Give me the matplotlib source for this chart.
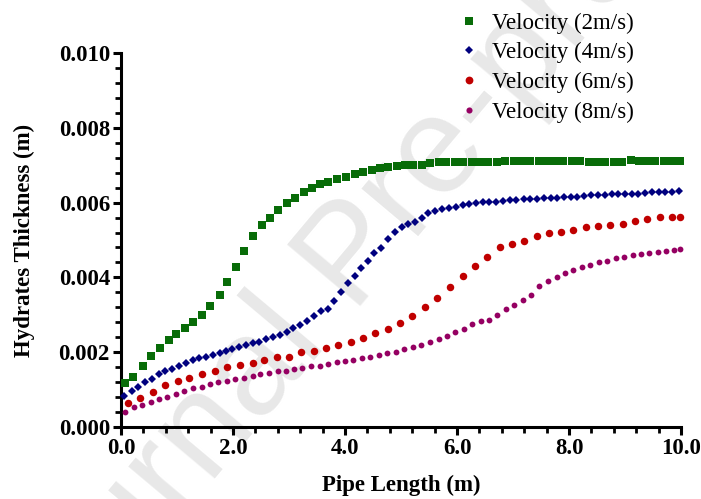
import matplotlib
matplotlib.use('Agg')
import matplotlib.pyplot as plt
from matplotlib.ticker import MultipleLocator, FormatStrFormatter
from matplotlib.lines import Line2D
import numpy as np

#Pipe length (m) and hydrate thickness (mm, converted to m below)
length_2 = [0.07, 0.22, 0.40, 0.54, 0.70, 0.85, 0.99, 1.14, 1.29, 1.44, 1.59, 1.77, 1.89, 2.05, 2.20, 2.36, 2.51,
            2.66, 2.81, 2.96, 3.11, 3.26, 3.41, 3.55, 3.70, 3.86, 4.02, 4.18, 4.33, 4.48, 4.63, 4.77, 4.92,
            5.07, 5.22, 5.37, 5.52, 5.67, 5.81, 5.96, 6.11, 6.26, 6.41, 6.56, 6.71, 6.86, 7.01, 7.16, 7.31,
            7.46, 7.60, 7.75, 7.90, 8.05, 8.20, 8.35, 8.50, 8.65, 8.80, 8.95, 9.10, 9.25, 9.39, 9.54, 9.69,
            9.84, 9.99]
thick_2 = [1.17, 1.35, 1.63, 1.90, 2.10, 2.33, 2.49, 2.64, 2.82, 2.99, 3.24, 3.53, 3.87, 4.28, 4.71, 5.11, 5.40,
           5.60, 5.80, 6.00, 6.13, 6.27, 6.38, 6.49, 6.56, 6.63, 6.69, 6.76, 6.83, 6.87, 6.92, 6.96, 6.98,
           7.01, 7.01, 7.01, 7.07, 7.08, 7.08, 7.08, 7.08, 7.08, 7.08, 7.08, 7.09, 7.12, 7.12, 7.12, 7.12,
           7.12, 7.12, 7.12, 7.12, 7.12, 7.12, 7.09, 7.09, 7.09, 7.09, 7.09, 7.14, 7.12, 7.12, 7.12, 7.12,
           7.12, 7.12]

length_4 = [0.05, 0.19, 0.31, 0.43, 0.55, 0.67, 0.79, 0.91, 1.04, 1.16, 1.28, 1.40, 1.52, 1.64, 1.76, 1.88, 1.99,
            2.11, 2.23, 2.35, 2.47, 2.59, 2.71, 2.84, 2.96, 3.08, 3.20, 3.32, 3.45, 3.57, 3.69, 3.81, 3.92,
            4.05, 4.17, 4.29, 4.41, 4.52, 4.64, 4.77, 4.89, 5.01, 5.13, 5.25, 5.37, 5.49, 5.61, 5.74, 5.86,
            5.98, 6.10, 6.22, 6.34, 6.46, 6.58, 6.70, 6.82, 6.94, 7.06, 7.19, 7.31, 7.43, 7.55, 7.67, 7.79,
            7.91, 8.03, 8.15, 8.27, 8.39, 8.51, 8.64, 8.76, 8.88, 9.00, 9.12, 9.24, 9.36, 9.48, 9.60, 9.72,
            9.84, 9.97]
thick_4 = [0.84, 0.97, 1.08, 1.19, 1.29, 1.41, 1.51, 1.56, 1.64, 1.72, 1.79, 1.84, 1.88, 1.93, 1.99, 2.04, 2.09,
           2.15, 2.19, 2.24, 2.28, 2.34, 2.40, 2.46, 2.54, 2.64, 2.73, 2.84, 2.97, 3.11, 3.16, 3.38, 3.62,
           3.84, 4.04, 4.24, 4.45, 4.66, 4.78, 5.03, 5.22, 5.36, 5.43, 5.49, 5.60, 5.73, 5.78, 5.83, 5.86,
           5.89, 5.94, 5.96, 6.00, 6.01, 6.02, 6.02, 6.04, 6.07, 6.07, 6.09, 6.10, 6.10, 6.11, 6.12, 6.13,
           6.14, 6.15, 6.16, 6.18, 6.19, 6.20, 6.21, 6.22, 6.22, 6.23, 6.23, 6.24, 6.26, 6.27, 6.27, 6.28,
           6.29, 6.31]

length_6 = [0.13, 0.34, 0.57, 0.79, 1.01, 1.22, 1.45, 1.67, 1.90, 2.13, 2.35, 2.56, 2.78, 3.00, 3.22, 3.44, 3.66,
            3.88, 4.10, 4.32, 4.54, 4.76, 4.98, 5.20, 5.43, 5.65, 5.88, 6.10, 6.32, 6.53, 6.76, 6.98, 7.20,
            7.42, 7.64, 7.86, 8.08, 8.30, 8.52, 8.74, 8.96, 9.18, 9.40, 9.63, 9.84, 9.99]
thick_6 = [0.63, 0.78, 0.93, 1.11, 1.24, 1.30, 1.41, 1.50, 1.60, 1.66, 1.72, 1.79, 1.86, 1.88, 2.00, 2.04, 2.10,
           2.20, 2.26, 2.39, 2.51, 2.61, 2.79, 2.98, 3.20, 3.44, 3.75, 4.05, 4.30, 4.54, 4.80, 4.89, 4.98,
           5.11, 5.18, 5.21, 5.27, 5.36, 5.37, 5.39, 5.43, 5.52, 5.55, 5.61, 5.61, 5.61]

length_8 = [0.07, 0.23, 0.38, 0.54, 0.68, 0.83, 0.98, 1.13, 1.29, 1.44, 1.59, 1.74, 1.89, 2.04, 2.20, 2.35, 2.49,
            2.64, 2.80, 2.95, 3.09, 3.24, 3.40, 3.55, 3.70, 3.85, 4.00, 4.15, 4.30, 4.45, 4.60, 4.75, 4.91,
            5.06, 5.21, 5.36, 5.52, 5.67, 5.82, 5.97, 6.12, 6.27, 6.43, 6.57, 6.72, 6.88, 7.02, 7.17, 7.32,
            7.47, 7.63, 7.78, 7.93, 8.08, 8.23, 8.38, 8.54, 8.68, 8.84, 8.99, 9.14, 9.29, 9.43, 9.58, 9.73,
            9.88, 9.98]
thick_8 = [0.39, 0.53, 0.59, 0.67, 0.74, 0.81, 0.88, 0.96, 1.03, 1.08, 1.14, 1.19, 1.23, 1.27, 1.32, 1.36, 1.41,
           1.45, 1.49, 1.51, 1.56, 1.59, 1.62, 1.63, 1.69, 1.74, 1.76, 1.79, 1.85, 1.88, 1.93, 1.97, 2.01,
           2.08, 2.15, 2.20, 2.27, 2.35, 2.43, 2.53, 2.62, 2.75, 2.83, 2.86, 2.99, 3.15, 3.27, 3.39, 3.53,
           3.77, 3.91, 4.02, 4.11, 4.20, 4.27, 4.33, 4.40, 4.45, 4.51, 4.55, 4.60, 4.63, 4.66, 4.69, 4.71,
           4.74, 4.76]

labels = ['Velocity (2m/s)', 'Velocity (4m/s)', 'Velocity (6m/s)', 'Velocity (8m/s)']
colors = ['#086C08', '#00007F', '#C00000', '#950062']
markers = ['s', 'D', 'o', 'o']
marker_sizes = [5.6, 3.6, 5.4, 4.2]
legend_sizes = [5.6, 3.6, 5.6, 4.4]

plt.rcParams['font.family'] = ['Liberation Serif', 'DejaVu Serif']

fig = plt.figure(figsize=(7.01, 4.99), dpi=100)
ax = fig.add_axes([0.1726, 0.1443, 0.7989, 0.7495])

#Watermark behind everything
fig.text(0.504, 0.482, 'Journal Pre-proof', fontsize=100, family='Liberation Sans', color='#e8e8e8',
         rotation=50, rotation_mode='anchor', ha='center', va='center', zorder=-1)
ax.patch.set_alpha(0)

series = [(length_2, thick_2), (length_4, thick_4), (length_6, thick_6), (length_8, thick_8)]
for (x, y), c, m, ms in zip(series, colors, markers, marker_sizes):
    ax.plot(x, np.array(y) * 1e-3, linestyle='none', marker=m, color=c, markersize=ms,
            markeredgewidth=0, clip_on=False, zorder=3)

#Axes limits and ticks
ax.set_xlim(0, 10)
ax.set_ylim(0, 0.010)
ax.xaxis.set_major_locator(MultipleLocator(2))
ax.xaxis.set_minor_locator(MultipleLocator(0.4))
ax.yaxis.set_major_locator(MultipleLocator(0.002))
ax.yaxis.set_minor_locator(MultipleLocator(0.0004))
ax.xaxis.set_major_formatter(FormatStrFormatter('%.1f'))
ax.yaxis.set_major_formatter(FormatStrFormatter('%.3f'))

for side in ['top', 'right']:
    ax.spines[side].set_visible(False)
for side in ['left', 'bottom']:
    ax.spines[side].set_linewidth(2.2)

ax.tick_params(which='major', length=6, width=2.2, labelsize=16.5, pad=2)
ax.tick_params(which='minor', length=4, width=2.0)
for lab in ax.get_xticklabels() + ax.get_yticklabels():
    lab.set_fontweight('bold')

ax.set_xlabel('Pipe Length (m)', fontsize=16.5, fontweight='bold', labelpad=11)
ax.set_ylabel('Hydrates Thickness (m)', fontsize=16.5, fontweight='bold', labelpad=17)

#Legend sits partly above the axes
handles = [Line2D([], [], linestyle='none', marker=m, color=c, markersize=ms, markeredgewidth=0)
           for m, c, ms in zip(markers, colors, legend_sizes)]
fig.legend(handles, labels, loc='upper left', bbox_to_anchor=(0.623, 1.016), frameon=False,
           fontsize=16.5, handlelength=1.0, handletextpad=0.5, labelspacing=0.37)

fig.savefig('out.png', dpi=100)
